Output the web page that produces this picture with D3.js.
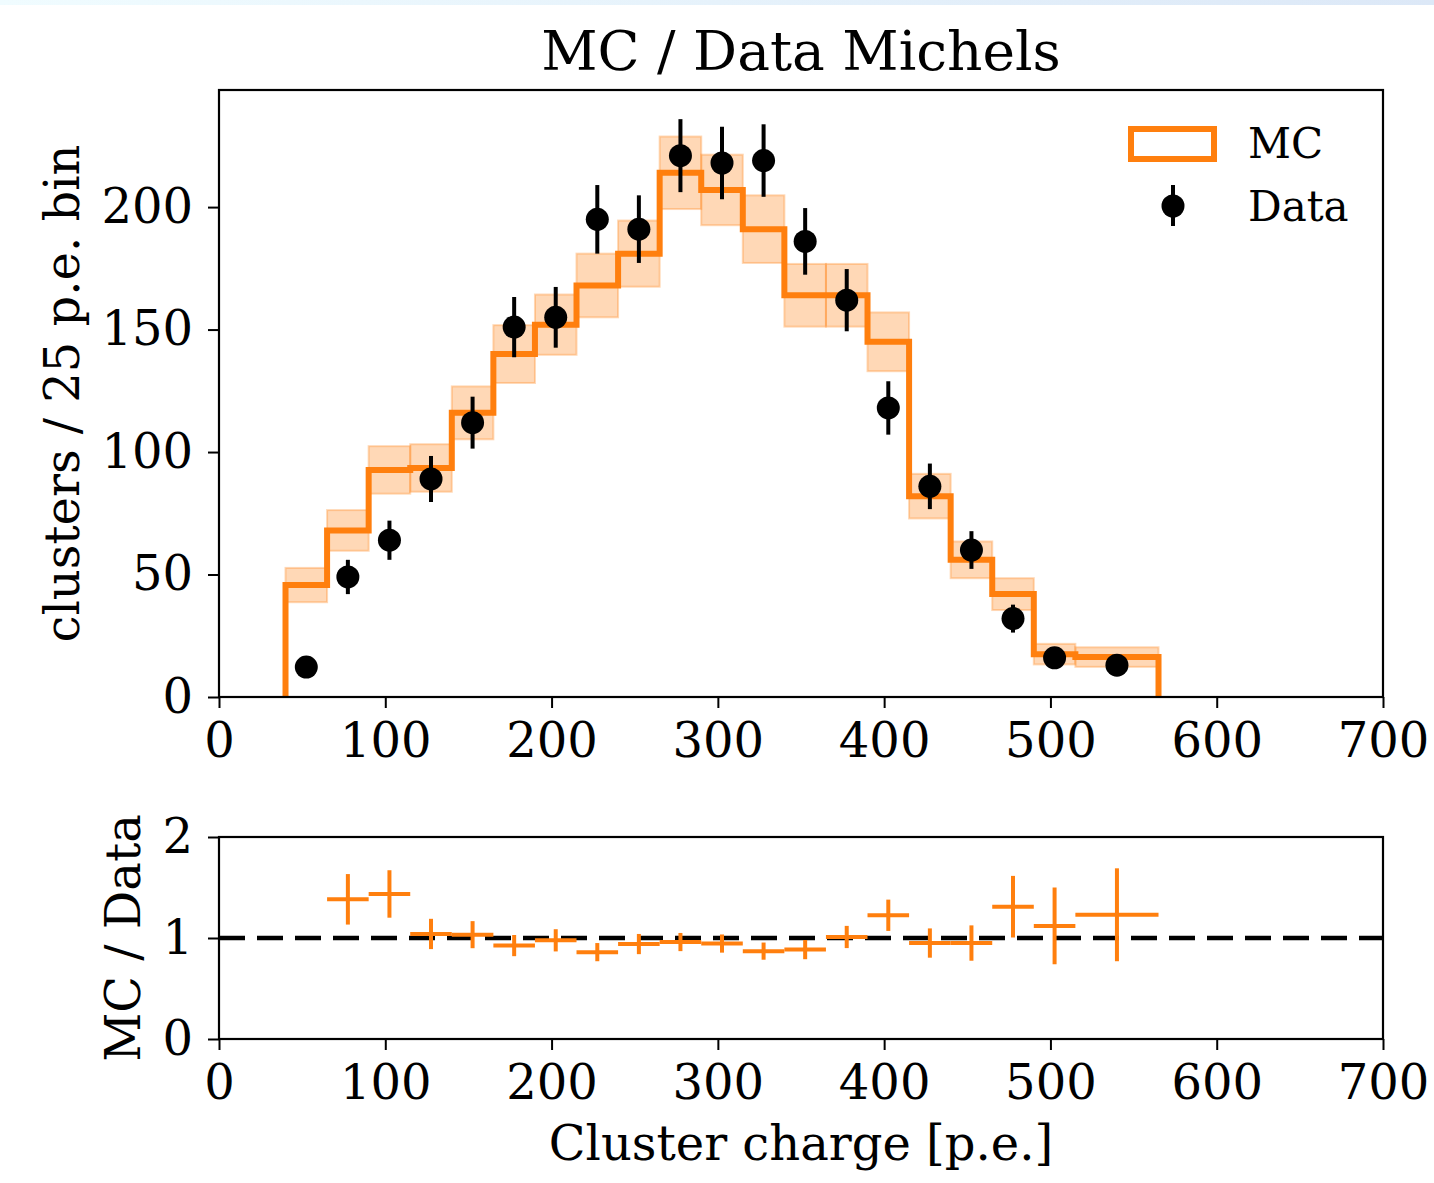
<!DOCTYPE html>
<html>
<head>
<meta charset="utf-8">
<script src="https://cdn.jsdelivr.net/npm/d3@7"></script>
<style>
  html, body { margin: 0; padding: 0; background: #fff; }
  svg { display: block; }
  text { font-family: "DejaVu Serif", serif; fill: #000; }
</style>
</head>
<body>
<svg id="chart" width="1434" height="1183"></svg>
<script>
// Bin edges of the cluster-charge histogram (p.e.); the last bin is merged to 50 p.e.
const binEdges = [40, 65, 90, 115, 140, 165, 190, 215, 240, 265, 290, 315, 340, 365, 390, 415, 440, 465, 490, 515, 565];

// Simulated counts per bin and their statistical uncertainty
const mcCounts = [45.7, 68, 92.7, 93.5, 116, 140, 152, 168, 181, 214, 207, 191, 164, 164, 145, 82, 56, 42, 17.5, 16.3];
const mcErrors = [7.0, 8.3, 9.7, 9.7, 10.8, 11.8, 12.3, 13.0, 13.5, 14.8, 14.4, 13.8, 12.8, 12.8, 12.0, 9.1, 7.5, 6.5, 4.2, 4.0];

// Measured counts per bin, with Poisson error bars
const dataCounts = [12.2, 49, 64, 89, 112, 151, 155, 195, 191, 221, 218, 219, 186, 162, 118, 86, 60, 32, 16, 13];
const dataErrors = [3.5, 7.0, 8.0, 9.4, 10.6, 12.3, 12.4, 14.0, 13.8, 14.9, 14.8, 14.8, 13.6, 12.7, 10.9, 9.3, 7.7, 5.7, 4.0, 3.6];

// MC / Data ratio per bin (first bin is above the plotted range)
const ratioValues = [3.75, 1.383, 1.436, 1.04, 1.033, 0.925, 0.977, 0.86, 0.94, 0.96, 0.945, 0.87, 0.885, 1.01, 1.225, 0.95, 0.95, 1.31, 1.12, 1.23];
const ratioErrors = [1.2, 0.25, 0.235, 0.15, 0.134, 0.105, 0.11, 0.09, 0.10, 0.09, 0.09, 0.085, 0.095, 0.11, 0.155, 0.145, 0.175, 0.305, 0.38, 0.46];

const xTicks = [0, 100, 200, 300, 400, 500, 600, 700];
const yTicksTop = [0, 50, 100, 150, 200];
const yTicksBottom = [0, 1, 2];

const orange = "#ff7f0e";
const svg = d3.select("#chart");

// faint header strip along the top edge
const defs = svg.append("defs");
const grad = defs.append("linearGradient").attr("id", "topStrip").attr("x1", "0").attr("x2", "1");
grad.append("stop").attr("offset", "0").attr("stop-color", "#f0fcff");
grad.append("stop").attr("offset", "1").attr("stop-color", "#dce8f7");
svg.append("rect").attr("x", 0).attr("y", 0).attr("width", 1434).attr("height", 5).attr("fill", "url(#topStrip)");

const left = 219, right = 1383;
const topPanel = { top: 90, bottom: 697 };
const botPanel = { top: 837, bottom: 1039 };

const x = d3.scaleLinear().domain([0, 700]).range([left, right]);
const yTop = d3.scaleLinear().domain([0, 247.8]).range([topPanel.bottom, topPanel.top]);
const yBot = d3.scaleLinear().domain([0, 2]).range([botPanel.bottom, botPanel.top]);

const bins = mcCounts.map((v, i) => ({
  x0: binEdges[i], x1: binEdges[i + 1], mc: v, mcErr: mcErrors[i],
  data: dataCounts[i], dataErr: dataErrors[i],
  ratio: ratioValues[i], ratioErr: ratioErrors[i]
}));

// ---------- top panel ----------
const gTop = svg.append("g");
gTop.append("clipPath").attr("id", "clipTop").append("rect")
  .attr("x", left).attr("y", topPanel.top).attr("width", right - left).attr("height", topPanel.bottom - topPanel.top);
const plotTop = gTop.append("g").attr("clip-path", "url(#clipTop)");

// MC uncertainty band, one box per bin
plotTop.selectAll("rect.band").data(bins).join("rect")
  .attr("class", "band")
  .attr("x", d => x(d.x0))
  .attr("width", d => x(d.x1) - x(d.x0))
  .attr("y", d => yTop(d.mc + d.mcErr))
  .attr("height", d => yTop(d.mc - d.mcErr) - yTop(d.mc + d.mcErr))
  .attr("fill", orange).attr("fill-opacity", 0.3)
  .attr("stroke", orange).attr("stroke-opacity", 0.3).attr("stroke-width", 2);

// MC step histogram
const stepPts = [[binEdges[0], 0]];
bins.forEach(d => { stepPts.push([d.x0, d.mc]); stepPts.push([d.x1, d.mc]); });
stepPts.push([binEdges[binEdges.length - 1], 0]);
plotTop.append("path")
  .attr("d", d3.line().x(p => x(p[0])).y(p => yTop(p[1]))(stepPts))
  .attr("fill", "none").attr("stroke", orange).attr("stroke-width", 6)
  .attr("stroke-linejoin", "miter");

// Data points with error bars
const dataG = plotTop.append("g");
dataG.selectAll("line").data(bins).join("line")
  .attr("x1", d => x((d.x0 + d.x1) / 2)).attr("x2", d => x((d.x0 + d.x1) / 2))
  .attr("y1", d => yTop(d.data - d.dataErr)).attr("y2", d => yTop(d.data + d.dataErr))
  .attr("stroke", "#000").attr("stroke-width", 4);
dataG.selectAll("circle").data(bins).join("circle")
  .attr("cx", d => x((d.x0 + d.x1) / 2)).attr("cy", d => yTop(d.data))
  .attr("r", 11.5).attr("fill", "#000");

// axes
const tickSize = 11, fontSize = 48;
function styleAxis(g) {
  g.selectAll(".domain").remove();
  g.selectAll(".tick line").attr("stroke", "#000").attr("stroke-width", 2);
  g.selectAll(".tick text").attr("font-size", fontSize).attr("font-family", "DejaVu Serif");
}
svg.append("g").attr("transform", `translate(0,${topPanel.bottom})`)
  .call(d3.axisBottom(x).tickValues(xTicks).tickSize(tickSize).tickPadding(15).tickFormat(d3.format("d")))
  .call(styleAxis);
svg.append("g").attr("transform", `translate(${left},0)`)
  .call(d3.axisLeft(yTop).tickValues(yTicksTop).tickSize(tickSize).tickPadding(15).tickFormat(d3.format("d")))
  .call(styleAxis);
svg.append("rect").attr("x", left).attr("y", topPanel.top)
  .attr("width", right - left).attr("height", topPanel.bottom - topPanel.top)
  .attr("fill", "none").attr("stroke", "#000").attr("stroke-width", 2.2);

// title and y label
svg.append("text").attr("x", 801).attr("y", 70)
  .attr("text-anchor", "middle").attr("font-size", 55).text("MC / Data Michels");
svg.append("text").attr("transform", `translate(79,${(topPanel.top + topPanel.bottom) / 2}) rotate(-90)`)
  .attr("text-anchor", "middle").attr("font-size", 48).text("clusters / 25 p.e. bin");

// legend
const lg = svg.append("g");
lg.append("rect").attr("x", 1131).attr("y", 129).attr("width", 83).attr("height", 30)
  .attr("fill", "none").attr("stroke", orange).attr("stroke-width", 6);
lg.append("text").attr("x", 1248).attr("y", 158).attr("font-size", 42).text("MC");
lg.append("line").attr("x1", 1173).attr("x2", 1173).attr("y1", 185).attr("y2", 226)
  .attr("stroke", "#000").attr("stroke-width", 4);
lg.append("circle").attr("cx", 1173).attr("cy", 206).attr("r", 11.5).attr("fill", "#000");
lg.append("text").attr("x", 1248).attr("y", 221).attr("font-size", 42).text("Data");

// ---------- ratio panel ----------
svg.append("clipPath").attr("id", "clipBot").append("rect")
  .attr("x", left).attr("y", botPanel.top).attr("width", right - left).attr("height", botPanel.bottom - botPanel.top);
const plotBot = svg.append("g").attr("clip-path", "url(#clipBot)");

plotBot.append("line").attr("x1", left).attr("x2", right).attr("y1", yBot(1)).attr("y2", yBot(1))
  .attr("stroke", "#000").attr("stroke-width", 4.5).attr("stroke-dasharray", "26,12");

const rb = plotBot.append("g");
rb.selectAll("line.h").data(bins).join("line").attr("class", "h")
  .attr("x1", d => x(d.x0)).attr("x2", d => x(d.x1))
  .attr("y1", d => yBot(d.ratio)).attr("y2", d => yBot(d.ratio))
  .attr("stroke", orange).attr("stroke-width", 4);
rb.selectAll("line.v").data(bins).join("line").attr("class", "v")
  .attr("x1", d => x((d.x0 + d.x1) / 2)).attr("x2", d => x((d.x0 + d.x1) / 2))
  .attr("y1", d => yBot(d.ratio - d.ratioErr)).attr("y2", d => yBot(d.ratio + d.ratioErr))
  .attr("stroke", orange).attr("stroke-width", 4);

svg.append("g").attr("transform", `translate(0,${botPanel.bottom})`)
  .call(d3.axisBottom(x).tickValues(xTicks).tickSize(tickSize).tickPadding(15).tickFormat(d3.format("d")))
  .call(styleAxis);
svg.append("g").attr("transform", `translate(${left},0)`)
  .call(d3.axisLeft(yBot).tickValues(yTicksBottom).tickSize(tickSize).tickPadding(15).tickFormat(d3.format("d")))
  .call(styleAxis);
svg.append("rect").attr("x", left).attr("y", botPanel.top)
  .attr("width", right - left).attr("height", botPanel.bottom - botPanel.top)
  .attr("fill", "none").attr("stroke", "#000").attr("stroke-width", 2.2);

svg.append("text").attr("transform", `translate(140,${(botPanel.top + botPanel.bottom) / 2}) rotate(-90)`)
  .attr("text-anchor", "middle").attr("font-size", 48).text("MC / Data");
svg.append("text").attr("x", 801).attr("y", 1160)
  .attr("text-anchor", "middle").attr("font-size", 48).text("Cluster charge [p.e.]");
</script>
</body>
</html>
